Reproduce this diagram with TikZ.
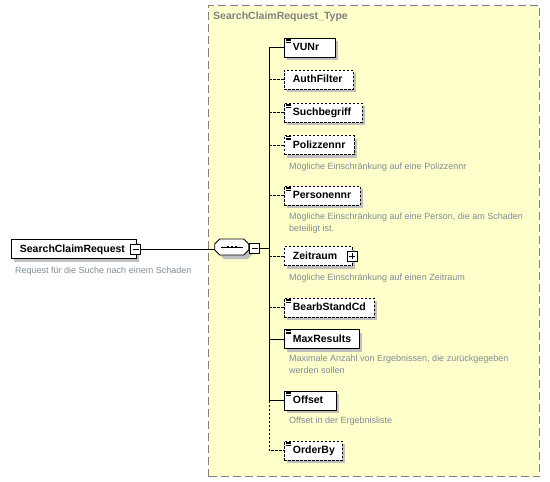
\documentclass[tikz,border=0pt]{standalone}
\usepackage{fontspec}
\setmainfont{Liberation Sans}
\usetikzlibrary{shadows}
\definecolor{yel}{RGB}{255,255,204}
\definecolor{framegray}{RGB}{128,128,128}
\definecolor{desc}{RGB}{128,140,150}
\definecolor{shad}{RGB}{192,192,192}
\newcommand\docicon[1]{\foreach \dy in {1.5,3,4.5}{\draw[line width=0.5pt] ([xshift=2pt,yshift=-\dy pt]#1.north west) -- ++(5,0);}}
\begin{document}
\begin{tikzpicture}[x=1pt,y=-1pt,
 elembox/.style={draw=black, fill=white, anchor=west, minimum height=19pt, inner xsep=8.5pt, inner ysep=0pt,
   font=\fontsize{10.5}{12}\selectfont\bfseries, text height=8pt, text depth=2pt, align=left, line width=0.8pt,
   drop shadow={shadow xshift=3pt, shadow yshift=-3pt, fill=shad, opacity=1}},
 opt/.style={dash pattern=on 2.5pt off 1.5pt},
 desctext/.style={anchor=north west, inner sep=0pt, font=\fontsize{9}{12}\selectfont, text=desc, align=left},
 conn/.style={line width=0.8pt},
 smallbox/.style={draw=black, fill=white, minimum size=10pt, inner sep=0pt, line width=0.7pt,
   drop shadow={shadow xshift=0.8pt, shadow yshift=-0.8pt, fill=black, opacity=1}},
 minusbox/.style={smallbox, path picture={\draw[line width=0.7pt] ([xshift=2pt]path picture bounding box.west) -- ([xshift=-2pt]path picture bounding box.east);}},
 plusbox/.style={smallbox, path picture={\draw[line width=0.7pt] ([xshift=2pt]path picture bounding box.west) -- ([xshift=-2pt]path picture bounding box.east);
   \draw[line width=0.7pt] ([yshift=-2pt]path picture bounding box.north) -- ([yshift=2pt]path picture bounding box.south);}},
]
\useasboundingbox (0,0) rectangle (550,482);
% type container
\node[draw=framegray, fill=yel, line width=1pt, dash pattern=on 8pt off 4pt, minimum width=331pt, minimum height=471pt, inner sep=0pt, anchor=north west] (typebox) at (208,5) {};
\node[anchor=west, inner sep=0pt, font=\fontsize{10.5}{12}\selectfont\bfseries, text=framegray] (typetitle) at (213,17) {SearchClaimRequest\_Type};

% root
\node[elembox, minimum width=125pt, text width=108pt] (root) at (11,249) {SearchClaimRequest};
\node[minusbox] (rootminus) at (135.5,249) {};
\node[desctext] (rootdesc) at (15,267) {Request für die Suche nach einem Schaden};

% sequence compositor
\node[minimum width=34pt, minimum height=16pt, inner sep=0pt] (seq) at (232,247) {};
\fill[shad] ([xshift=4pt,yshift=-4pt]seq.west) -- ++(0,-3) -- ++(5,-5) -- ++(24,0) -- ++(5,5) -- ++(0,6) -- ++(-5,5) -- ++(-24,0) -- ++(-5,-5) -- cycle;
\draw[line width=0.8pt, fill=white] (seq.west) -- ++(0,-3) -- ++(5,-5) -- ++(24,0) -- ++(5,5) -- ++(0,6) -- ++(-5,5) -- ++(-24,0) -- ++(-5,-5) -- cycle;
\draw[line width=0.8pt] ([xshift=6pt]seq.west) -- ([xshift=-6pt]seq.east);
\foreach \dx in {-4,0,4}{\fill ([xshift=\dx pt]seq.center) ++(-1.4,-1.4) rectangle ++(2.8,2.8);}
\node[minusbox] (seqminus) at (254.5,248) {};
\coordinate (spine) at (269,248);

% children
\node[elembox, minimum width=51pt, text width=34pt] (vunr) at (284,47.5) {VUNr};
\node[elembox, opt, minimum width=69pt, text width=52pt] (authfilter) at (284,79.5) {AuthFilter};
\node[elembox, opt, minimum width=78pt, text width=61pt] (suchbegriff) at (284,112.5) {Suchbegriff};
\node[elembox, opt, minimum width=70pt, text width=53pt] (polizzennr) at (284,145) {Polizzennr};
\node[desctext] (polizzennrdesc) at (289,163) {Mögliche Einschränkung auf eine Polizzennr};
\node[elembox, opt, minimum width=76pt, text width=59pt] (personennr) at (284,195.5) {Personennr};
\node[desctext] (personennrdesc) at (289,213) {Mögliche Einschränkung auf eine Person, die am Schaden\\beteiligt ist.};
\node[elembox, opt, minimum width=68pt, text width=51pt] (zeitraum) at (284,256) {Zeitraum};
\node[plusbox] (zeitplus) at (352,256) {};
\node[desctext] (zeitraumdesc) at (289,274) {Mögliche Einschränkung auf einen Zeitraum};
\node[elembox, opt, minimum width=90pt, text width=73pt] (bearb) at (284,307.5) {BearbStandCd};
\node[elembox, minimum width=75pt, text width=58pt] (maxres) at (284,339) {MaxResults};
\node[desctext] (maxresdesc) at (289,355) {Maximale Anzahl von Ergebnissen, die zurückgegeben\\werden sollen};
\node[elembox, minimum width=52pt, text width=35pt] (offset) at (284,400.5) {Offset};
\node[desctext] (offsetdesc) at (289,417) {Offset in der Ergebnisliste};
\node[elembox, opt, minimum width=58pt, text width=41pt] (orderby) at (284,450.5) {OrderBy};

\foreach \n in {vunr,suchbegriff,polizzennr,personennr,bearb,maxres,offset,orderby}{\docicon{\n}}

% connectors
\draw[conn] (rootminus.east) -- (rootminus.east -| seq.west);
\draw[conn] (seq.east |- seqminus.west) -- (seqminus.west);
\draw[conn] (seqminus.east) -- (spine);
\draw[conn] (vunr.west -| spine) -- (offset.west -| spine);
\draw[conn, opt] (offset.west -| spine) -- (orderby.west -| spine) -- (orderby.west);
\draw[conn] (vunr.west -| spine) -- (vunr.west);
\draw[conn, opt] (authfilter.west -| spine) -- (authfilter.west);
\draw[conn, opt] (suchbegriff.west -| spine) -- (suchbegriff.west);
\draw[conn, opt] (polizzennr.west -| spine) -- (polizzennr.west);
\draw[conn, opt] (personennr.west -| spine) -- (personennr.west);
\draw[conn, opt] (zeitraum.west -| spine) -- (zeitraum.west);
\draw[conn, opt] (bearb.west -| spine) -- (bearb.west);
\draw[conn] (maxres.west -| spine) -- (maxres.west);
\draw[conn] (offset.west -| spine) -- (offset.west);
\end{tikzpicture}
\end{document}
